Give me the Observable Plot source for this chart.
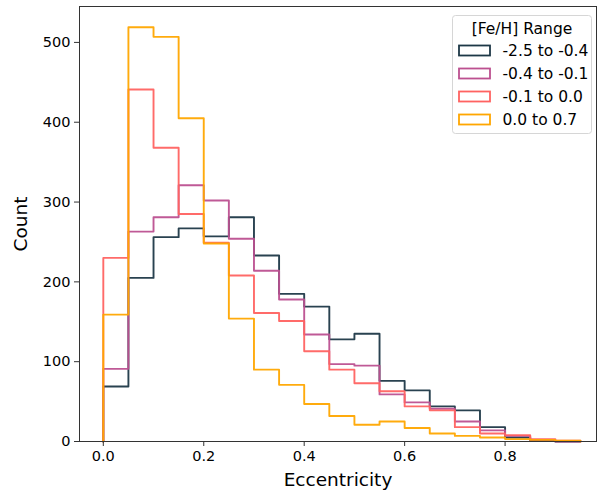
<!DOCTYPE html>
<html><head><meta charset="utf-8">
<script src="https://cdn.jsdelivr.net/npm/d3@7"></script>
<script src="https://cdn.jsdelivr.net/npm/@observablehq/plot@0.6"></script>
<style>
body{margin:0;background:#fff}
#chart{width:597px;height:491px;overflow:hidden;position:relative}
svg{font-family:"DejaVu Sans",sans-serif}
</style>
</head><body><div id="chart"></div>
<script>
const binEdges = [0,0.05,0.1,0.15,0.2,0.25,0.3,0.35,0.4,0.45,0.5,0.55,0.6,0.65,0.7,0.75,0.8,0.85,0.9,0.95];
const seriesNames = ["-2.5 to -0.4","-0.4 to -0.1","-0.1 to 0.0","0.0 to 0.7"];
const seriesColors = ["#1d3847","#bc5090","#ff6361","#ffa600"];
const countsA = [69,205,256,267,257,281,233,185,169,128,135,76,64,44,39,18,5,1,0];
const countsB = [91,263,281,321,302,254,214,178,134,97,95,59,49,41,25,14,7,2,0];
const countsC = [230,441,368,285,249,208,161,151,113,90,73,63,44,39,18,10,8,3,1];
const countsD = [159,519,507,405,248,154,90,71,47,32,21,25,17,10,7,5,3,2,1];
const xTicks = [0,0.2,0.4,0.6,0.8];
const yTicks = [0,100,200,300,400,500];
const legendTitle = "[Fe/H] Range";

const allCounts = [countsA,countsB,countsC,countsD];
const stepData = [];
allCounts.forEach((counts, si) => {
  const s = seriesNames[si];
  stepData.push({x: binEdges[0], y: 0, s});
  counts.forEach((c, i) => stepData.push({x: binEdges[i], y: c, s}));
  stepData.push({x: binEdges[binEdges.length-1], y: 0, s});
});

const chart = Plot.plot({
  width: 597, height: 491,
  marginLeft: 79, marginRight: 1, marginTop: 6, marginBottom: 50,
  style: {fontFamily: "DejaVu Sans, sans-serif", fontSize: "14px", color: "#000", background: "#fff"},
  x: {domain: [-0.0474, 0.982], ticks: xTicks, tickFormat: d3.format(".1f")},
  y: {domain: [0, 545], ticks: yTicks},
  color: {domain: seriesNames, range: seriesColors},
  marks: [
    Plot.line(stepData, {x: "x", y: "y", z: "s", stroke: "s", curve: "step-after", strokeWidth: 1.9, strokeOpacity: 0.95}),
    Plot.frame({stroke: "#333", strokeWidth: 1}),
    Plot.axisX({ticks: xTicks, tickFormat: d3.format(".1f"), tickSize: 5, tickPadding: 4, fontSize: 14.5, label: "Eccentricity", labelAnchor: "center", labelArrow: "none", labelOffset: 44, stroke: "#333"}),
    Plot.axisY({ticks: yTicks, tickSize: 5, tickPadding: 4, fontSize: 14.5, label: "Count", labelAnchor: "center", labelArrow: "none", labelOffset: 66, stroke: "#333"})
  ]
});
document.getElementById("chart").appendChild(chart);

// Legend
const svg = d3.select(chart);
svg.selectAll("g[aria-label='x-axis label'] text, g[aria-label='y-axis label'] text").style("font-size","18.5px");
const lg = svg.append("g").attr("transform","translate(452.5,15.5)").attr("text-anchor","start");
lg.append("rect").attr("width",139).attr("height",118).attr("rx",3)
  .attr("fill","#fff").attr("fill-opacity",0.8).attr("stroke","#d6d6d6");
lg.append("text").attr("x",69.5).attr("y",18).attr("text-anchor","middle")
  .style("font-size","15.5px").attr("fill","#000").text(legendTitle);
seriesNames.forEach((n,i)=>{
  const y0 = 30 + i*23;
  lg.append("rect").attr("x",6.5).attr("y",y0).attr("width",31).attr("height",10)
    .attr("fill","none").attr("stroke",seriesColors[i]).attr("stroke-width",1.8);
  lg.append("text").attr("x",50).attr("y",y0+10.5).attr("text-anchor","start")
    .style("font-size","15.5px").attr("fill","#000").text(n);
});
</script>
</body></html>
